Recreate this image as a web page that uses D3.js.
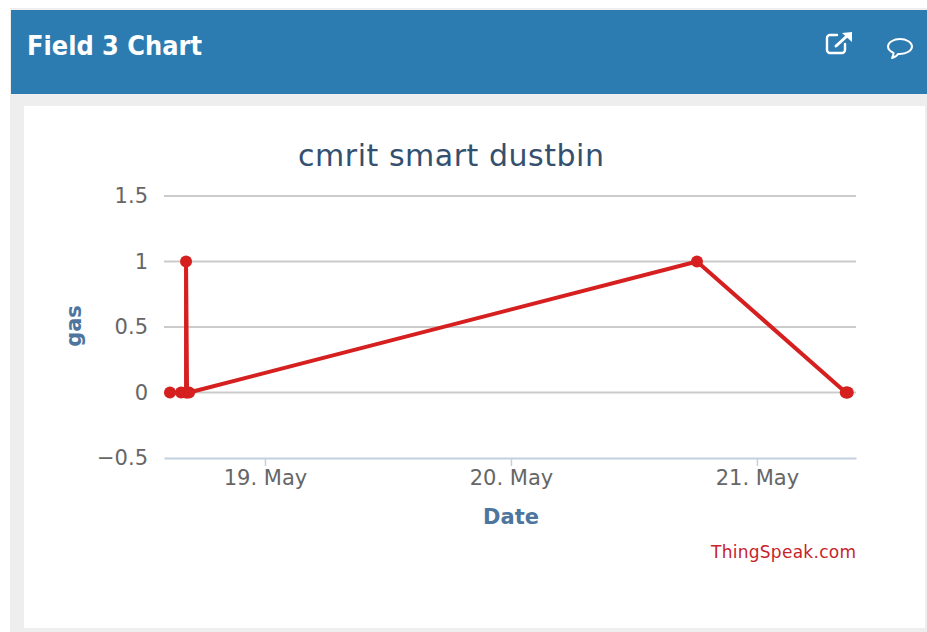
<!DOCTYPE html>
<html>
<head>
<meta charset="utf-8">
<script src="https://cdn.jsdelivr.net/npm/d3@7"></script>
<style>
  html, body { margin: 0; padding: 0; background: #fff; overflow: hidden; }
  text { font-family: "DejaVu Sans", sans-serif; }
</style>
</head>
<body>
<div id="chart"></div>
<script>
const chartTitle = "cmrit smart dustbin";
const panelTitle = "Field 3 Chart";
const yLabel = "gas";
const xLabel = "Date";
const credit = "ThingSpeak.com";

const times = [
    "2017-05-18T14:44Z", "2017-05-18T15:49Z", "2017-05-18T16:18Z", "2017-05-18T16:18Z",
    "2017-05-18T16:24Z", "2017-05-18T16:36Z", "2017-05-20T18:09Z", "2017-05-21T08:40Z",
    "2017-05-21T08:47Z", "2017-05-21T08:52Z"
];
const gas = [0, 0, 0, 1, 0, 0, 1, 0, 0, 0];
const yTicks = [-0.5, 0, 0.5, 1, 1.5];
const xTicks = ["2017-05-19T00:00Z", "2017-05-20T00:00Z", "2017-05-21T00:00Z"];
const domainStart = "2017-05-18T14:09Z";
const domainEnd = "2017-05-21T09:40Z";

const width = 927;
const height = 632;
const red = "#d62020";

const svg = d3.select("#chart").append("svg")
    .attr("width", width)
    .attr("height", height)
    .style("display", "block");

// page and panel
svg.append("rect").attr("x", 10).attr("y", 8).attr("width", 917).attr("height", 624).attr("fill", "#eeeeee");
svg.append("rect").attr("x", 11).attr("y", 10).attr("width", 916).attr("height", 84).attr("fill", "#2d7cb1");
svg.append("rect").attr("x", 24).attr("y", 106).attr("width", 901).attr("height", 522).attr("fill", "#fff");

svg.append("text")
    .attr("x", 27).attr("y", 55)
    .attr("fill", "#fff")
    .style("font-weight", "bold")
    .style("font-size", "26px")
    .attr("textLength", 175)
    .attr("lengthAdjust", "spacingAndGlyphs")
    .text(panelTitle);

// header icons
const icons = svg.append("g").attr("fill", "none").attr("stroke", "#fff").attr("stroke-linecap", "round").attr("stroke-linejoin", "round");
icons.append("path").attr("stroke-width", 2.4).attr("d", "M845 44v6a3 3 0 0 1-3 3h-12a3 3 0 0 1-3-3v-12a3 3 0 0 1 3-3h7");
icons.append("path").attr("stroke-width", 3).attr("d", "M836 46l11-10");
icons.append("path").attr("fill", "#fff").attr("stroke", "none").attr("d", "M842 33l10-1v10z");
icons.append("path").attr("stroke-width", 2).attr("d", "M900 39c6.500 0 12 3.500 12 7.500s-5.500 7.500-12 7.500l-2 0c-1 2-3 3-6 4 1-1.500 1.500-3 1.500-5-3-1.500-5.500-3.700-5.500-6.500 0-4 5.500-7.500 12-7.500z");

const x = d3.scaleUtc()
    .domain([new Date(domainStart), new Date(domainEnd)])
    .range([164, 856]);

const y = d3.scaleLinear()
    .domain([-0.5, 1.5])
    .range([458, 196]);

// gridlines
svg.append("g").selectAll("line")
    .data(yTicks.filter(d => d !== -0.5))
    .enter()
    .append("line")
    .attr("x1", 164).attr("x2", 856)
    .attr("y1", d => y(d)).attr("y2", d => y(d))
    .attr("stroke", "#cbcbcb")
    .attr("stroke-width", 2);

// y axis labels
const yAxis = svg.append("g")
    .attr("transform", "translate(164,0)")
    .call(d3.axisLeft(y).tickValues(yTicks).tickSize(0).tickPadding(16).tickFormat(d => String(d).replace("-", "\u2212")));
yAxis.select(".domain").remove();
yAxis.selectAll("text")
    .attr("fill", "#666666")
    .style("font-size", "21px");

// x axis
const xAxis = svg.append("g")
    .attr("transform", "translate(0,458)")
    .call(d3.axisBottom(x)
        .tickValues(xTicks.map(d => new Date(d)))
        .tickSize(8)
        .tickSizeOuter(0)
        .tickPadding(4)
        .tickFormat(d3.utcFormat("%-d. %b")));
xAxis.select(".domain").attr("stroke", "#c4d0df").attr("stroke-width", 2);
xAxis.selectAll("line").attr("stroke", "#c4d0df").attr("stroke-width", 1.5);
xAxis.selectAll("text")
    .attr("fill", "#666666")
    .style("font-size", "21px");

svg.append("text")
    .attr("x", 451).attr("y", 166)
    .attr("text-anchor", "middle")
    .attr("fill", "#34506e")
    .style("font-size", "30px")
    .attr("textLength", 306)
    .text(chartTitle);

svg.append("text")
    .attr("x", 511).attr("y", 524)
    .attr("text-anchor", "middle")
    .attr("fill", "#4d759e")
    .style("font-weight", "bold")
    .style("font-size", "21px")
    .text(xLabel);

svg.append("text")
    .attr("transform", "translate(81,326) rotate(-90)")
    .attr("text-anchor", "middle")
    .attr("fill", "#4d759e")
    .style("font-weight", "bold")
    .style("font-size", "21px")
    .text(yLabel);

svg.append("text")
    .attr("x", 856).attr("y", 558)
    .attr("text-anchor", "end")
    .attr("fill", "#c8242c")
    .style("font-size", "17px")
    .attr("textLength", 145)
    .text(credit);

// series
const points = times.map((t, i) => ({ t: new Date(t), v: gas[i] }));

const line = d3.line()
    .x(d => x(d.t))
    .y(d => y(d.v));

svg.append("path")
    .datum(points)
    .attr("fill", "none")
    .attr("stroke", red)
    .attr("stroke-width", 4)
    .attr("stroke-linejoin", "round")
    .attr("d", line);

svg.selectAll(".dot")
    .data(points)
    .enter()
    .append("circle")
    .attr("class", "dot")
    .attr("cx", d => x(d.t))
    .attr("cy", d => y(d.v))
    .attr("r", 6)
    .attr("fill", red);
</script>
</body>
</html>
